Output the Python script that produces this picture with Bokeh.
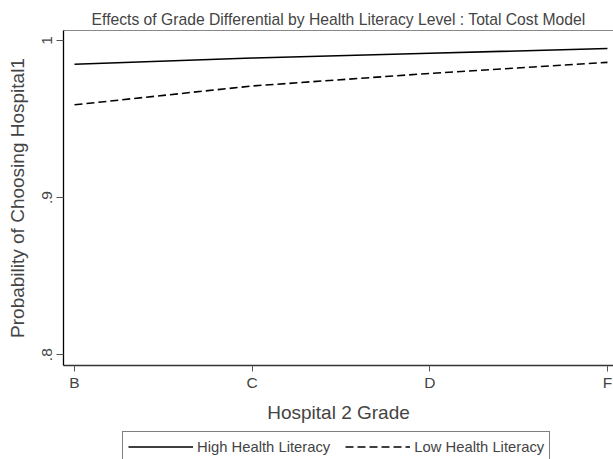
from bokeh.plotting import figure
from bokeh.layouts import column
from bokeh.models import (Range1d, FixedTicker, LinearAxis, Legend, LegendItem, ColumnDataSource)
from bokeh.embed import file_html
from bokeh.resources import INLINE

grades = ["B", "C", "D", "F"]
grade_pos = [1, 2, 3, 4]
high_lit = [0.9848, 0.9888, 0.9918, 0.9948]
low_lit = [0.9590, 0.9710, 0.9790, 0.9860]
y_ticks = [0.8, 0.9, 1.0]
y_tick_labels = [".8", ".9", "1"]
series_labels = ["High Health Literacy", "Low Health Literacy"]

FONT = "Liberation Sans"

p = figure(width=613, height=425, output_backend="svg", toolbar_location=None,
           x_range=Range1d(0.938, 4.034), y_range=Range1d(0.7931, 1.0063),
           min_border_left=63, min_border_right=0, min_border_top=30, min_border_bottom=56)
p.outline_line_color = None
p.xgrid.visible = False
p.ygrid.visible = False

p.title.text = "Effects of Grade Differential by Health Literacy Level : Total Cost Model"
p.title.align = "center"
p.title.text_font = FONT
p.title.text_font_size = "15.7px"
p.title.text_font_style = "normal"
p.title.standoff = 5

src = ColumnDataSource(dict(x=grade_pos, high=high_lit, low=low_lit))
r_high = p.line("x", "high", source=src, line_color="black", line_width=1.6)
r_low = p.line("x", "low", source=src, line_color="black", line_width=1.6, line_dash="8 4")

# x axis
xa = p.xaxis[0]
xa.ticker = FixedTicker(ticks=grade_pos)
xa.major_label_overrides = {g: lab for g, lab in zip(grade_pos, grades)}
xa.axis_label = "Hospital 2 Grade"
xa.axis_label_text_font = FONT
xa.axis_label_text_font_size = "19px"
xa.axis_label_text_font_style = "normal"
xa.axis_label_standoff = 8
xa.major_label_text_font = FONT
xa.major_label_text_font_size = "15.5px"
xa.major_label_standoff = 2
xa.major_tick_out = 6
xa.major_tick_in = 0
xa.minor_tick_line_color = None
xa.axis_line_color = "#333333"
xa.axis_line_width = 1.3
xa.major_tick_line_color = "#555555"

# y axis
ya = p.yaxis[0]
ya.ticker = FixedTicker(ticks=y_ticks)
ya.major_label_overrides = {t: lab for t, lab in zip(y_ticks, y_tick_labels)}
ya.major_label_orientation = "vertical"
ya.axis_label = "Probability of Choosing Hospital1"
ya.axis_label_text_font = FONT
ya.axis_label_text_font_size = "19px"
ya.axis_label_text_font_style = "normal"
ya.axis_label_standoff = 12
ya.major_label_text_font = FONT
ya.major_label_text_font_size = "15.5px"
ya.major_label_standoff = 4
ya.major_tick_out = 7
ya.major_tick_in = 0
ya.minor_tick_line_color = None
ya.axis_line_color = "black"
ya.axis_line_width = 1.3
ya.major_tick_line_color = "#555555"

# top frame line
top = LinearAxis(major_tick_line_color=None, minor_tick_line_color=None,
                 major_label_text_font_size="0px", axis_line_color="#888888",
                 axis_line_width=1.2, major_label_standoff=0, major_tick_out=0)
top.ticker = FixedTicker(ticks=[])
p.add_layout(top, "above")

# legend strip below the chart (its own lines are kept out of view)
q = figure(width=613, height=34, output_backend="svg", toolbar_location=None,
           x_axis_type=None, y_axis_type=None,
           x_range=Range1d(100, 101), y_range=Range1d(100, 101),
           min_border_left=63, min_border_right=0, min_border_top=0, min_border_bottom=0)
q.outline_line_color = None
q.xgrid.visible = False
q.ygrid.visible = False
lh = q.line("x", "high", source=src, line_color="black", line_width=1.6)
ll = q.line("x", "low", source=src, line_color="black", line_width=1.6, line_dash="8 4")

legend = Legend(items=[LegendItem(label=series_labels[0], renderers=[lh]),
                       LegendItem(label=series_labels[1], renderers=[ll])],
                orientation="horizontal", location=(59, -3),
                label_text_font=FONT, label_text_font_size="14.8px",
                glyph_width=65, glyph_height=19, label_standoff=4, spacing=15,
                padding=5, margin=0, border_line_color="black", border_line_width=1,
                background_fill_alpha=1)
q.add_layout(legend, "center")

layout = column(p, q, spacing=0)
open("out.html", "w").write(file_html(layout, INLINE))
